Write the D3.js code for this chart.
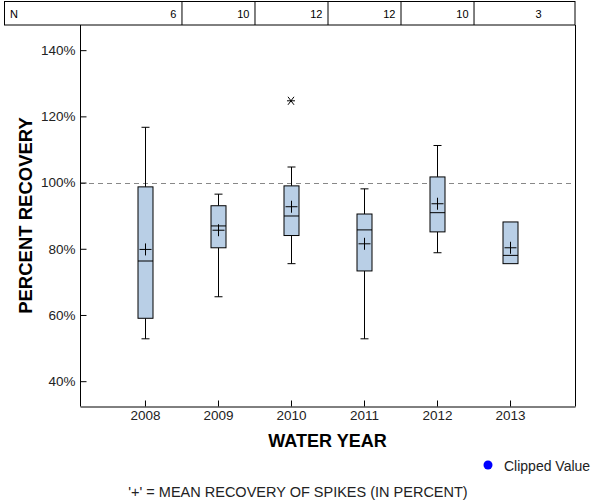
<!DOCTYPE html>
<html><head><meta charset="utf-8">
<script src="https://cdn.jsdelivr.net/npm/d3@7"></script>
<style>body{margin:0;background:#fff;} svg{display:block;font-family:"Liberation Sans",Arial,sans-serif;}</style>
</head><body>
<svg id="c" width="600" height="500"></svg>
<script>
const years = ["2008","2009","2010","2011","2012","2013"];
const nCounts = [6,10,12,12,10,3];
const whiskerLow  = [52.8,65.5,75.5,52.8,78.8,null];
const q1          = [59.0,80.3,84.0,73.3,85.1,75.5];
const median      = [76.3,86.9,89.9,85.7,90.9,78.0];
const q3          = [98.7,93.0,99.0,90.5,101.7,88.1];
const whiskerHigh = [116.7,96.5,104.7,98.1,111.2,null];
const means       = [79.8,85.6,92.7,81.5,93.6,80.3];
const outliers    = [{year:"2010", value:124.7}];
const yTicks = [40,60,80,100,120,140];
const refLine = 100;

const svg = d3.select("#c");
const L=80, R=575, T=25, B=406;
const x = d3.scalePoint().domain(years).range([L,R]).padding(0.89);
const y = d3.scaleLinear().domain([32.5,147.6]).range([B,T]);
const step = x.step();

// N table
const tbl = svg.append("g");
tbl.append("rect").attr("x",4.5).attr("y",1.5).attr("width",R-4.5).attr("height",T-1.5)
  .attr("fill","none").attr("stroke","#000");
years.forEach((yr,i)=>{
  const right = x(yr)+step/2;
  if(i<years.length-1) tbl.append("line").attr("x1",right+0.5).attr("x2",right+0.5).attr("y1",1.5).attr("y2",T).attr("stroke","#000");
  tbl.append("text").attr("x",Math.min(right,R)-5).attr("y",18).attr("text-anchor","end")
    .attr("font-size",11).attr("fill","#000").text(nCounts[i]);
});
tbl.append("text").attr("x",10).attr("y",18).attr("font-size",11).text("N");

// frame
svg.append("line").attr("x1",R+0.5).attr("x2",R+0.5).attr("y1",T).attr("y2",B+0.5).attr("stroke","#000");

// reference line
svg.append("line").attr("x1",L).attr("x2",R).attr("y1",Math.round(y(refLine))+0.5).attr("y2",Math.round(y(refLine))+0.5)
  .attr("stroke","#888").attr("stroke-dasharray","5,4");

// axes
const yAxis = d3.axisLeft(y).tickValues(yTicks).tickFormat(d=>d+"%").tickSizeInner(-6).tickSizeOuter(0).tickPadding(5);
const gy = svg.append("g").attr("transform",`translate(${L+0.5},0)`).call(yAxis);
gy.select(".domain").attr("d",`M0,${T}V${B+0.5}`);
gy.selectAll("text").attr("font-size",13.5).attr("fill","#222").attr("font-family","Liberation Sans, Arial, sans-serif");

const xAxis = d3.axisBottom(x).tickSizeInner(-6).tickSizeOuter(0).tickPadding(4);
const gx = svg.append("g").attr("transform",`translate(0,${B+0.5})`).call(xAxis);
gx.selectAll("text").attr("font-size",13.5).attr("fill","#222").attr("font-family","Liberation Sans, Arial, sans-serif");

// boxes
const bw = 15;
years.forEach((yr,i)=>{
  const cx = Math.round(x(yr))+0.5;
  const g = svg.append("g").attr("stroke","#000").attr("stroke-width",1);
  if(whiskerHigh[i]!=null){
    g.append("line").attr("x1",cx).attr("x2",cx).attr("y1",y(whiskerHigh[i])).attr("y2",y(q3[i]));
    g.append("line").attr("x1",cx-4).attr("x2",cx+4).attr("y1",y(whiskerHigh[i])).attr("y2",y(whiskerHigh[i]));
  }
  if(whiskerLow[i]!=null){
    g.append("line").attr("x1",cx).attr("x2",cx).attr("y1",y(q1[i])).attr("y2",y(whiskerLow[i]));
    g.append("line").attr("x1",cx-4).attr("x2",cx+4).attr("y1",y(whiskerLow[i])).attr("y2",y(whiskerLow[i]));
  }
  g.append("rect").attr("x",cx-bw/2).attr("y",y(q3[i])).attr("width",bw).attr("height",y(q1[i])-y(q3[i]))
    .attr("fill","#b9cfe6");
  g.append("line").attr("x1",cx-bw/2).attr("x2",cx+bw/2).attr("y1",y(median[i])).attr("y2",y(median[i]));
  const my = y(means[i]);
  g.append("line").attr("x1",cx-6).attr("x2",cx+6).attr("y1",my).attr("y2",my);
  g.append("line").attr("x1",cx).attr("x2",cx).attr("y1",my-6).attr("y2",my+6);
});

// outliers (asterisk)
outliers.forEach(o=>{
  const cx = x(o.year), cy = y(o.value);
  const g = svg.append("g").attr("stroke","#000").attr("stroke-width",1);
  g.append("line").attr("x1",cx-4).attr("x2",cx+4).attr("y1",cy).attr("y2",cy);
  g.append("line").attr("x1",cx-3).attr("x2",cx+3).attr("y1",cy-4).attr("y2",cy+4);
  g.append("line").attr("x1",cx-3).attr("x2",cx+3).attr("y1",cy+4).attr("y2",cy-4);
});

// titles
svg.append("text").attr("transform",`translate(32,${(T+B)/2}) rotate(-90)`).attr("text-anchor","middle")
  .attr("font-size",18.5).attr("font-weight","bold").text("PERCENT RECOVERY");
svg.append("text").attr("x",(L+R)/2).attr("y",447).attr("text-anchor","middle")
  .attr("font-size",18).attr("font-weight","bold").text("WATER YEAR");

// legend
svg.append("circle").attr("cx",488).attr("cy",465).attr("r",4.5).attr("fill","#0000ff");
svg.append("text").attr("x",504).attr("y",471).attr("font-size",14).attr("fill","#222").text("Clipped Value");

// footnote
svg.append("text").attr("x",298).attr("y",497).attr("text-anchor","middle").attr("font-size",14.5).attr("fill","#222")
  .text("'+' = MEAN RECOVERY OF SPIKES (IN PERCENT)");
</script>
</body></html>
